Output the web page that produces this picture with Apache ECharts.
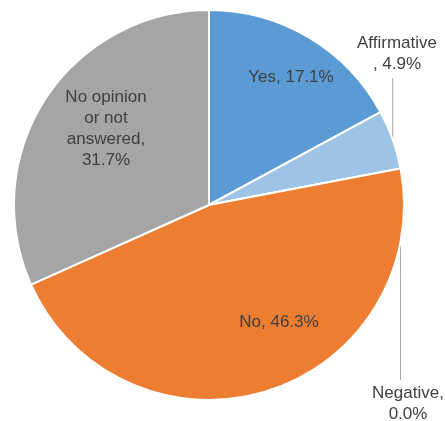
<!DOCTYPE html>
<html><head><meta charset="utf-8">
<script src="https://cdn.jsdelivr.net/npm/echarts@6/dist/echarts.min.js"></script>
<style>html,body{margin:0;padding:0;background:#fff}#c{width:445px;height:421px}</style>
</head><body><div id="c"></div>
<script>
const categories = ['Yes', 'Affirmative', 'Negative', 'No', 'No opinion or not answered'];
const values = [17.1, 4.9, 0.0, 46.3, 31.7];
const labelTexts = ['Yes, 17.1%', 'Affirmative\n, 4.9%', 'Negative,\n0.0%', 'No, 46.3%', 'No opinion\nor not\nanswered,\n31.7%'];
const colors = ['#5B9BD5', '#9DC3E6', '#FFC000', '#ED7D31', '#A5A5A5'];
const outside = [false, true, true, false, false];
// label anchor positions (layout only)
const labelPos = [[291, 77], [397, 54], [408, 404], [279, 322], [106, 129]];

const chart = echarts.init(document.getElementById('c'), null, {renderer: 'canvas'});
chart.setOption({
  animation: false,
  series: [{
    type: 'pie',
    center: [209, 205],
    radius: 195,
    startAngle: 90,
    clockwise: true,
    avoidLabelOverlap: false,
    minShowLabelAngle: 0,
    itemStyle: {borderColor: '#fff', borderWidth: 2},
    label: {
      show: true, position: 'inside',
      fontFamily: 'Liberation Sans', fontSize: 17, lineHeight: 21,
      color: '#404040', align: 'center',
      formatter: p => labelTexts[p.dataIndex]
    },
    labelLine: {show: false},
    labelLayout: function (p) {
      const i = p.dataIndex;
      const o = {x: labelPos[i][0], y: labelPos[i][1], align: 'center', verticalAlign: 'middle'};
      if (outside[i] && p.labelLinePoints) {
        const s = p.labelLinePoints[0];
        const r = p.labelRect;
        const endY = s[1] < labelPos[i][1] ? labelPos[i][1] - r.height / 2 - 3 : labelPos[i][1] + r.height / 2 + 3;
        o.labelLinePoints = [[s[0], s[1]], [s[0], (s[1] + endY) / 2], [s[0], endY]];
      }
      return o;
    },
    data: categories.map((c, i) => ({
      name: c, value: values[i],
      itemStyle: {color: colors[i]},
      label: outside[i] ? {position: 'outside'} : {},
      labelLine: outside[i] ? {show: true, length: 10, length2: 10, lineStyle: {color: '#A6A6A6', width: 1}} : {show: false}
    }))
  }]
});
</script></body></html>
